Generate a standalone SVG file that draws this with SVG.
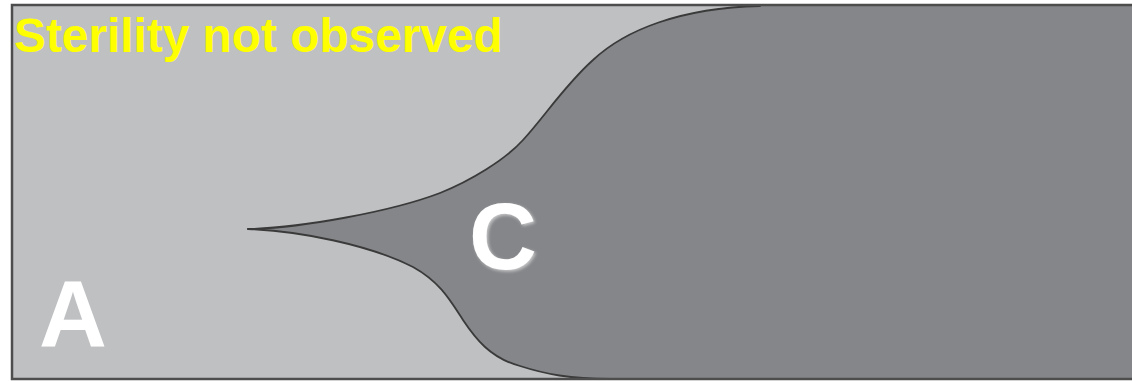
<svg xmlns="http://www.w3.org/2000/svg" width="1132" height="381" viewBox="0 0 1132 381">
  <defs>
    <style>
      .label { font-family: "Liberation Sans", Arial, sans-serif; font-weight: bold; }
      .edge { fill: none; stroke: #3a3a3a; stroke-width: 1.8; stroke-linecap: round; }
    </style>
    <filter id="glow" x="-20%" y="-20%" width="140%" height="140%">
      <feDropShadow dx="1.5" dy="1.5" stdDeviation="1.5" flood-color="#ffffff" flood-opacity="0.55"/>
    </filter>
  </defs>

  <!-- light background field (region A) -->
  <rect id="field" x="12" y="5" width="1130" height="374" fill="#bfc0c2"/>

  <!-- dark region C widening from a point to the full height -->
  <g id="region-c">
    <path fill="#858689" d="M248,229 C300,228 390,212 440,193 C470,181 505,160 523,140 C545,116 565,85 593,60 C625,30 680,8 760,6 L1140,6 L1140,379 L610,379 C570,379 545,374 520,366 C490,358 475,338 463,320 C450,300 440,282 413,267 C370,245 300,231 248,229 Z"/>
  </g>

  <!-- boundary curves -->
  <g id="boundaries">
    <path class="edge" d="M248,229 C300,228 390,212 440,193 C470,181 505,160 523,140 C545,116 565,85 593,60 C625,30 680,8 760,6"/>
    <path class="edge" d="M248,229 C300,231 370,245 413,267 C440,282 450,300 463,320 C475,338 490,358 520,366 C545,374 570,379 610,379"/>
  </g>

  <!-- outer frame -->
  <rect x="12" y="5" width="1130" height="374" fill="none" stroke="#4d4d4d" stroke-width="2.5"/>

  <g id="labels">
    <text class="label" x="14" y="52" font-size="47.8" fill="#ffff00">Sterility not observed</text>
    <text class="label" x="39" y="347" font-size="94" fill="#ffffff">A</text>
    <text class="label" x="469" y="269" font-size="94" fill="#ffffff" filter="url(#glow)">C</text>
  </g>
</svg>
